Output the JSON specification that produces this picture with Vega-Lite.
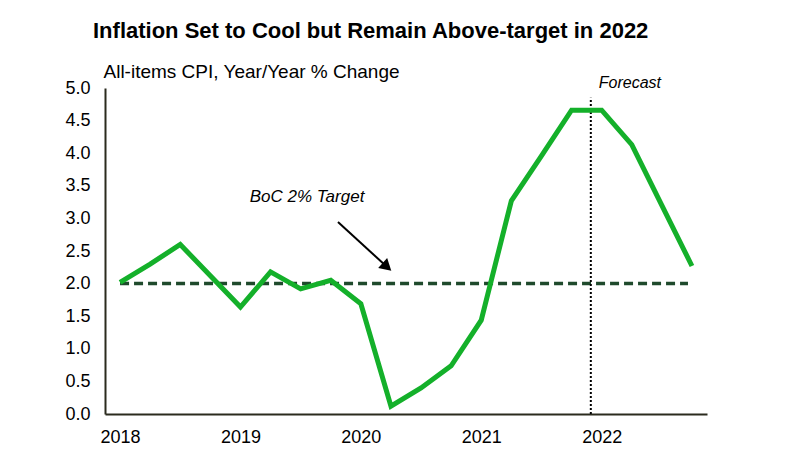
{
  "$schema": "https://vega.github.io/schema/vega-lite/v6.json",
  "autosize": "none",
  "width": 602,
  "height": 326,
  "padding": {"left": 105, "top": 88, "right": 85, "bottom": 54},
  "background": "white",
  "config": {
    "view": {"stroke": null},
    "font": "Liberation Sans",
    "axis": {"grid": false, "ticks": false, "domainColor": "#2b2b1e", "domainWidth": 2, "labelColor": "#000000", "labelFont": "Liberation Sans", "labelFontSize": 18, "labelOverlap": false}
  },
  "title": {
    "text": "Inflation Set to Cool but Remain Above-target in 2022",
    "anchor": "start",
    "frame": "group",
    "dx": -12,
    "dy": 11,
    "offset": 30,
    "font": "Liberation Sans",
    "fontSize": 22,
    "fontWeight": "bold",
    "color": "#000000"
  },
  "datasets": {
    "cpi": [
      {"t": 2018.0, "v": 2.02},
      {"t": 2018.25, "v": 2.3},
      {"t": 2018.5, "v": 2.6},
      {"t": 2018.75, "v": 2.12},
      {"t": 2019.0, "v": 1.64},
      {"t": 2019.25, "v": 2.18},
      {"t": 2019.5, "v": 1.92},
      {"t": 2019.75, "v": 2.05},
      {"t": 2020.0, "v": 1.69},
      {"t": 2020.25, "v": 0.12},
      {"t": 2020.5, "v": 0.4},
      {"t": 2020.75, "v": 0.74},
      {"t": 2021.0, "v": 1.44},
      {"t": 2021.25, "v": 3.27},
      {"t": 2021.5, "v": 3.96},
      {"t": 2021.75, "v": 4.66},
      {"t": 2022.0, "v": 4.66},
      {"t": 2022.25, "v": 4.13},
      {"t": 2022.5, "v": 3.2},
      {"t": 2022.75, "v": 2.27}
    ]
  },
  "layer": [
    {
      "data": {"values": [{"x1": 2018.0, "x2": 2022.717, "y": 2}]},
      "mark": {"type": "rule", "color": "#1f4a2c", "strokeWidth": 3.5, "strokeDash": [9, 5]},
      "encoding": {
        "x": {"field": "x1", "type": "quantitative", "scale": {"domain": [2017.875, 2022.875], "nice": false, "zero": false},
          "axis": {"values": [2018, 2019, 2020, 2021, 2022], "format": "d", "title": null, "labelPadding": 14, "labelFlush": false, "labelOverlap": false}},
        "x2": {"field": "x2"},
        "y": {"field": "y", "type": "quantitative", "scale": {"domain": [0, 5], "nice": false},
          "axis": {"values": [0, 0.5, 1, 1.5, 2, 2.5, 3, 3.5, 4, 4.5, 5], "tickCount": 11, "format": ".1f", "labelPadding": 15, "labelOverlap": false, "labelFlush": false, "labelBound": false,
            "title": "All-items CPI, Year/Year % Change", "titleAngle": 0, "titleX": -2, "titleY": -11, "titleAlign": "left", "titleBaseline": "alphabetic",
            "titleFont": "Liberation Sans", "titleFontSize": 19, "titleFontWeight": "normal", "titleColor": "#000000"}}
      }
    },
    {
      "data": {"values": [{"x": 2021.91, "y1": 0, "y2": 4.85}]},
      "mark": {"type": "rule", "color": "#000000", "strokeWidth": 2, "strokeDash": [2, 2]},
      "encoding": {
        "x": {"field": "x", "type": "quantitative"},
        "y": {"field": "y1", "type": "quantitative"},
        "y2": {"field": "y2"}
      }
    },
    {
      "data": {"name": "cpi"},
      "mark": {"type": "line", "color": "#14b02a", "strokeWidth": 5, "strokeJoin": "miter"},
      "encoding": {
        "x": {"field": "t", "type": "quantitative"},
        "y": {"field": "v", "type": "quantitative", "axis": {"values": [0, 0.5, 1, 1.5, 2, 2.5, 3, 3.5, 4, 4.5, 5], "tickCount": 11, "format": ".1f", "labelOverlap": false}}
      }
    },
    {
      "data": {"values": [{"x1": 2019.81, "y1": 2.945, "x2": 2020.209, "y2": 2.27}]},
      "mark": {"type": "rule", "color": "#000000", "strokeWidth": 2},
      "encoding": {
        "x": {"field": "x1", "type": "quantitative"},
        "y": {"field": "y1", "type": "quantitative"},
        "x2": {"field": "x2"},
        "y2": {"field": "y2"}
      }
    },
    {
      "data": {"values": [{"x": 2020.217, "y": 2.255}]},
      "mark": {"type": "point", "shape": "triangle-right", "filled": true, "color": "#000000", "opacity": 1, "size": 180, "angle": 42},
      "encoding": {
        "x": {"field": "x", "type": "quantitative"},
        "y": {"field": "y", "type": "quantitative"}
      }
    },
    {
      "data": {"values": [{"x": 2019.553, "y": 3.33, "label": "BoC 2% Target"}]},
      "mark": {"type": "text", "font": "Liberation Sans", "fontSize": 17, "fontStyle": "italic", "color": "#000000", "align": "center", "baseline": "middle"},
      "encoding": {
        "x": {"field": "x", "type": "quantitative"},
        "y": {"field": "y", "type": "quantitative"},
        "text": {"field": "label"}
      }
    },
    {
      "data": {"values": [{"x": 2022.235, "y": 5.08, "label": "Forecast"}]},
      "mark": {"type": "text", "font": "Liberation Sans", "fontSize": 16, "fontStyle": "italic", "color": "#000000", "align": "center", "baseline": "middle"},
      "encoding": {
        "x": {"field": "x", "type": "quantitative"},
        "y": {"field": "y", "type": "quantitative"},
        "text": {"field": "label"}
      }
    }
  ]
}
